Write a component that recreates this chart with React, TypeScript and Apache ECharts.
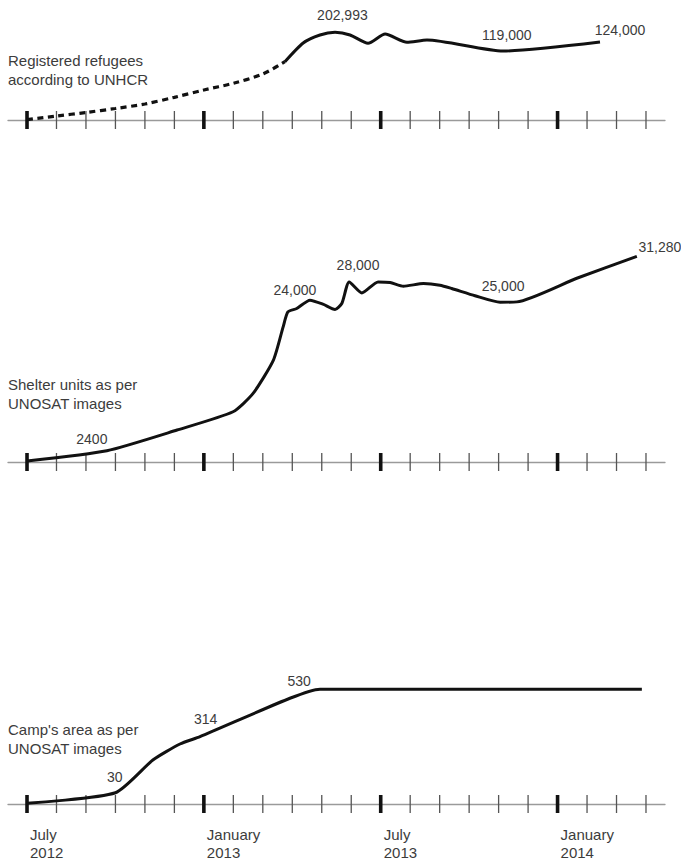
import React, { useEffect, useRef } from "react";
import * as echarts from "echarts";

// Months counted from July 2012 (0) to April 2014 (21)
const tickMonths = [0, 1, 2, 3, 4, 5, 6, 7, 8, 9, 10, 11, 12, 13, 14, 15, 16, 17, 18, 19, 20, 21];
const majorTickMonths = [0, 6, 12, 18];
const dateLabels = ["July\n2012", "January\n2013", "July\n2013", "January\n2014"];

// Panel 1: registered refugees (UNHCR) – schematic heights
const refugeesDashedMonths = [0, 1, 2, 3, 4, 5, 6, 7, 8, 8.75];
const refugeesDashed = [1000, 9260, 17400, 26600, 37000, 52500, 69500, 85000, 106500, 135000];
const refugeesSolidMonths = [8.75, 9.37, 9.94, 10.45, 10.96, 11.57, 12.15, 12.89, 13.57, 16.15, 19.44];
const refugeesSolid = [135000, 178300, 196800, 202993, 196800, 177600, 199100, 179900, 185200, 159700, 180600];
const refugeesLabelMonths = [10.7, 16.28, 20.12];
const refugeesLabelValues = [243000, 196800, 208400];
const refugeesLabelTexts = ["202,993", "119,000", "124,000"];

// Panel 2: shelter units (UNOSAT)
const shelterMonths = [0, 2.71, 5.09, 6.99, 7.67, 8.36, 8.69, 8.85, 9.15, 9.6, 10.04, 10.45, 10.68, 10.93, 11.36, 11.91, 12.32, 12.77, 13.45, 14.01, 14.41, 15.2, 16.05, 16.62, 18.63, 20.69];
const shelterUnits = [152, 1718, 4864, 7645, 10442, 15504, 20566, 22846, 23362, 24624, 24016, 23210, 24122, 27406, 25734, 27406, 27314, 26752, 27162, 26904, 26402, 25308, 24320, 24366, 27920, 31280];
const shelterLabelMonths = [2.2, 9.09, 11.23, 16.15, 21.47];
const shelterLabelValues = [3500, 26250, 29940, 26750, 32680];
const shelterLabelTexts = ["2400", "24,000", "28,000", "25,000", "31,280"];

// Panel 3: camp's area (UNOSAT)
const campMonths = [0, 3, 4.27, 5.19, 5.87, 8.92, 9.94, 10.6, 20.86];
const campArea = [3, 52, 203, 277, 311, 488, 530, 530, 530];
const campLabelMonths = [2.98, 6.06, 9.23];
const campLabelValues = [126, 391, 570];
const campLabelTexts = ["30", "314", "530"];

const panelTitles = [
  "Registered refugees\naccording to UNHCR",
  "Shelter units as per\nUNOSAT images",
  "Camp's area as per\nUNOSAT images",
];

const FONT = "'Liberation Sans', Arial, Helvetica, sans-serif";
const TEXT = "#3c3c3c";
const LINE = "#111111";

function pairs(xs: number[], ys: number[]) {
  return xs.map((x, i) => [x, ys[i]]);
}

function tickSeries(idx: number) {
  return {
    type: "custom",
    coordinateSystem: "cartesian2d",
    xAxisIndex: idx,
    yAxisIndex: idx,
    z: 3,
    silent: true,
    data: tickMonths.map((m) => [m, 0]),
    renderItem: (params: any, api: any) => {
      const m = api.value(0);
      const p = api.coord([m, 0]);
      const major = majorTickMonths.indexOf(m) >= 0;
      return {
        type: "line",
        shape: { x1: p[0], y1: p[1] - 9, x2: p[0], y2: p[1] + 9 },
        style: { stroke: major ? "#111" : "#555", lineWidth: major ? 3.6 : 1.3 },
      };
    },
  };
}

function labelSeries(idx: number, months: number[], values: number[], texts: string[]) {
  return {
    type: "custom",
    coordinateSystem: "cartesian2d",
    xAxisIndex: idx,
    yAxisIndex: idx,
    z: 5,
    silent: true,
    data: pairs(months, values),
    renderItem: (params: any, api: any) => {
      const p = api.coord([api.value(0), api.value(1)]);
      return {
        type: "text",
        x: p[0],
        y: p[1],
        style: {
          text: texts[params.dataIndex],
          align: "center",
          verticalAlign: "middle",
          fill: TEXT,
          fontSize: 14,
          fontFamily: FONT,
        },
      };
    },
  };
}

export default function App() {
  const ref = useRef<HTMLDivElement>(null);

  useEffect(() => {
    document.body.style.margin = "0";
    if (!ref.current) return;
    const chart = echarts.init(ref.current, undefined, { renderer: "svg" });

    const grids = [
      { left: 8, width: 657, top: 12, height: 108 },
      { left: 8, width: 657, top: 232, height: 230 },
      { left: 8, width: 657, top: 674, height: 130 },
    ];
    const yMax = [250000, 35000, 600];

    const xAxes = grids.map((_, i) => ({
      type: "value",
      gridIndex: i,
      min: -0.645,
      max: 21.645,
      axisLine: { show: true, lineStyle: { color: "#9a9a9a", width: 1.3 } },
      axisTick: { show: false },
      splitLine: { show: false },
      axisLabel:
        i === 2
          ? {
              show: true,
              customValues: majorTickMonths,
              formatter: (v: number) => dateLabels[majorTickMonths.indexOf(Math.round(v))] || "",
              align: "left",
              verticalAlign: "top",
              margin: 21,
              lineHeight: 18.5,
              fontSize: 15,
              fontFamily: FONT,
              color: TEXT,
              padding: [0, 0, 0, 3],
            }
          : { show: false },
    }));

    const yAxes = grids.map((_, i) => ({
      type: "value",
      gridIndex: i,
      min: 0,
      max: yMax[i],
      show: false,
      splitLine: { show: false },
    }));

    const lineBase = {
      type: "line",
      symbol: "none",
      showSymbol: false,
      z: 4,
      silent: true,
    };

    const titleTops = [51, 375.5, 720.5];

    chart.setOption({
      animation: false,
      backgroundColor: "#ffffff",
      title: panelTitles.map((t, i) => ({
        text: t,
        left: 8,
        top: titleTops[i],
        padding: 0,
        textStyle: {
          fontSize: 15,
          fontWeight: "normal",
          lineHeight: 18.7,
          color: TEXT,
          fontFamily: FONT,
        },
      })),
      grid: grids,
      xAxis: xAxes,
      yAxis: yAxes,
      series: [
        tickSeries(0),
        tickSeries(1),
        tickSeries(2),
        {
          ...lineBase,
          xAxisIndex: 0,
          yAxisIndex: 0,
          smooth: 0.3,
          data: pairs(refugeesDashedMonths, refugeesDashed),
          lineStyle: { color: LINE, width: 3.2, type: [6, 4.5] },
        },
        {
          ...lineBase,
          xAxisIndex: 0,
          yAxisIndex: 0,
          smooth: 0.22,
          data: pairs(refugeesSolidMonths, refugeesSolid),
          lineStyle: { color: LINE, width: 3 },
        },
        {
          ...lineBase,
          xAxisIndex: 1,
          yAxisIndex: 1,
          smooth: 0.2,
          data: pairs(shelterMonths, shelterUnits),
          lineStyle: { color: LINE, width: 3 },
        },
        {
          ...lineBase,
          xAxisIndex: 2,
          yAxisIndex: 2,
          smooth: 0.2,
          data: pairs(campMonths, campArea),
          lineStyle: { color: LINE, width: 3 },
        },
        labelSeries(0, refugeesLabelMonths, refugeesLabelValues, refugeesLabelTexts),
        labelSeries(1, shelterLabelMonths, shelterLabelValues, shelterLabelTexts),
        labelSeries(2, campLabelMonths, campLabelValues, campLabelTexts),
      ],
    });

    return () => {
      chart.dispose();
    };
  }, []);

  return <div ref={ref} style={{ width: 681, height: 862 }} />;
}
